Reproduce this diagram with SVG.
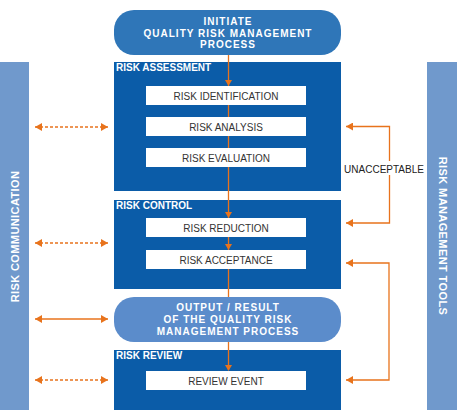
<svg xmlns="http://www.w3.org/2000/svg" width="457" height="420" viewBox="0 0 457 420">
<defs>
<style>
.bar{fill:#7099cc}
.box{fill:#0b5ca8}
.wb{fill:#ffffff}
.hdr{font-family:"Liberation Sans",Arial,sans-serif;font-size:10px;font-weight:bold;fill:#ffffff}
.pt{font-family:"Liberation Sans",Arial,sans-serif;font-size:10px;font-weight:bold;fill:#ffffff;letter-spacing:1px;text-anchor:middle}
.wt{font-family:"Liberation Sans",Arial,sans-serif;font-size:10px;fill:#333333;text-anchor:middle}
.side{font-family:"Liberation Sans",Arial,sans-serif;font-size:11px;font-weight:bold;fill:#ffffff;letter-spacing:0.4px;text-anchor:middle}
.ln{stroke:#e8731c;stroke-width:1.3;fill:none}
.dash{stroke-dasharray:3 2}
.ah{fill:#e8731c}
</style>
<marker id="a" viewBox="0 0 7 8" refX="7" refY="4" markerWidth="7" markerHeight="8" markerUnits="userSpaceOnUse" orient="auto-start-reverse">
<path d="M0,0 L7,4 L0,8 Z" fill="#e8731c"/>
</marker>
</defs>

<g id="risk-communication">
<rect class="bar" x="0" y="62" width="29" height="348"/>
<text class="side" transform="translate(18.5,236.5) rotate(-90)">RISK COMMUNICATION</text>
</g>
<g id="risk-management-tools">
<rect class="bar" x="427" y="62" width="30" height="348"/>
<text class="side" transform="translate(438.5,236) rotate(90)">RISK MANAGEMENT TOOLS</text>
</g>

<g id="initiate">
<rect x="114" y="10" width="227" height="45" rx="20" fill="#2f76b8"/>
<text class="pt" x="228" y="25">INITIATE</text>
<text class="pt" x="228" y="36.7">QUALITY RISK MANAGEMENT</text>
<text class="pt" x="228" y="48.4">PROCESS</text>
</g>

<g id="risk-assessment">
<rect class="box" x="114" y="62" width="227" height="129"/>
<text class="hdr" x="116" y="71">RISK ASSESSMENT</text>
</g>
<g id="risk-control">
<rect class="box" x="114" y="200" width="227" height="89"/>
<text class="hdr" x="116" y="208.5">RISK CONTROL</text>
</g>
<g id="risk-review">
<rect class="box" x="114" y="350" width="227" height="60"/>
<text class="hdr" x="116" y="358.5">RISK REVIEW</text>
</g>

<g id="connectors">
<path class="ln" d="M228.5,55 V370"/>
<path class="ah" d="M225,80 L232,80 L228.5,86 Z"/>
<path class="ah" d="M225,212 L232,212 L228.5,218 Z"/>
<path class="ah" d="M225,244 L232,244 L228.5,250 Z"/>
<path class="ah" d="M225,365 L232,365 L228.5,371 Z"/>

<line class="ln dash" x1="35" y1="127" x2="108" y2="127" marker-start="url(#a)" marker-end="url(#a)"/>
<line class="ln dash" x1="35" y1="243" x2="108" y2="243" marker-start="url(#a)" marker-end="url(#a)"/>
<line class="ln" x1="35" y1="319" x2="108" y2="319" marker-start="url(#a)" marker-end="url(#a)"/>
<line class="ln dash" x1="35" y1="380" x2="108" y2="380" marker-start="url(#a)" marker-end="url(#a)"/>

<path class="ln" d="M346,126.5 H389.5 V223 H346" marker-start="url(#a)" marker-end="url(#a)"/>
<rect x="343" y="161" width="82" height="14" fill="#ffffff"/>
<text x="384" y="172.5" font-family="Liberation Sans, Arial, sans-serif" font-size="10" fill="#222222" text-anchor="middle">UNACCEPTABLE</text>
<path class="ln" d="M346,263 H389 V380 H346" marker-start="url(#a)" marker-end="url(#a)"/>
</g>

<g id="output">
<rect x="114" y="297" width="227" height="45" rx="20" fill="#5b8ccb"/>
<text class="pt" x="228" y="311">OUTPUT / RESULT</text>
<text class="pt" x="228" y="323">OF THE QUALITY RISK</text>
<text class="pt" x="228" y="335">MANAGEMENT PROCESS</text>
</g>

<g id="risk-identification">
<rect class="wb" x="146" y="86" width="160" height="19"/>
<text class="wt" x="226" y="99.5">RISK IDENTIFICATION</text>
</g>
<g id="risk-analysis">
<rect class="wb" x="146" y="117" width="160" height="19"/>
<text class="wt" x="226" y="130.5">RISK ANALYSIS</text>
</g>
<g id="risk-evaluation">
<rect class="wb" x="146" y="148" width="160" height="19"/>
<text class="wt" x="226" y="161.5">RISK EVALUATION</text>
</g>
<g id="risk-reduction">
<rect class="wb" x="146" y="218" width="160" height="19"/>
<text class="wt" x="226" y="231.5">RISK REDUCTION</text>
</g>
<g id="risk-acceptance">
<rect class="wb" x="146" y="250" width="160" height="19"/>
<text class="wt" x="226" y="263.5">RISK ACCEPTANCE</text>
</g>
<g id="review-event">
<rect class="wb" x="146" y="371" width="160" height="19"/>
<text class="wt" x="226" y="384.5">REVIEW EVENT</text>
</g>
</svg>
